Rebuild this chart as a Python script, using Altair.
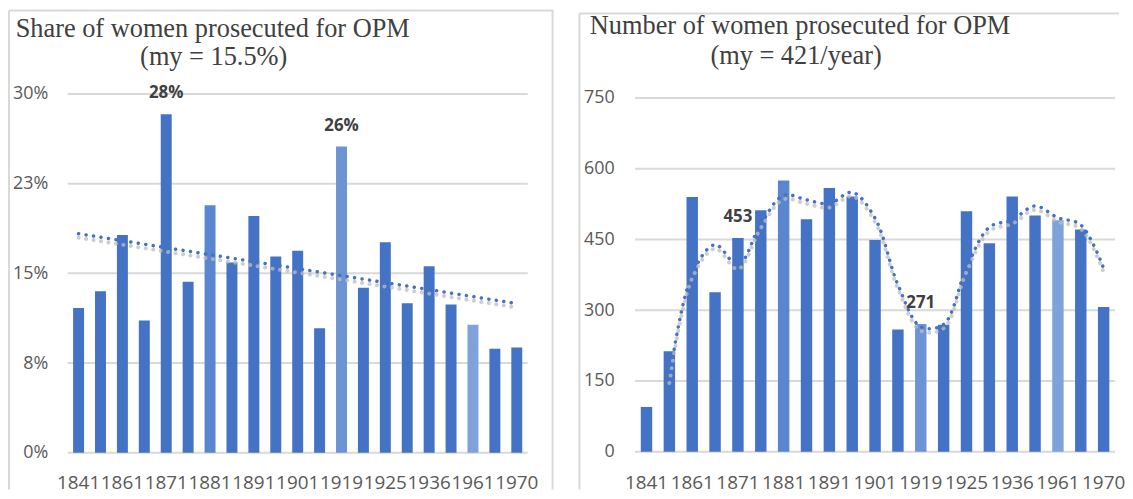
import altair as alt
import pandas as pd

# ---------------- data ----------------
years = ["1841", "1851", "1861", "1866", "1871", "1876", "1881", "1886", "1891", "1896",
         "1901", "1910", "1919", "1920", "1925", "1930", "1936", "1950", "1961", "1965", "1970"]
shown_years = ["1841", "1861", "1871", "1881", "1891", "1901", "1919", "1925", "1936", "1961", "1970"]
share = [0.121, 0.135, 0.182, 0.1105, 0.283, 0.143, 0.207, 0.159, 0.198, 0.164, 0.169,
         0.104, 0.256, 0.138, 0.176, 0.125, 0.156, 0.124, 0.107, 0.087, 0.088]
count = [95, 213, 540, 338, 453, 512, 575, 493, 559, 541, 449,
         259, 271, 269, 510, 442, 541, 501, 491, 471, 307]
share_ticks = [0.0, 0.075, 0.15, 0.225, 0.30]
count_ticks = [0, 150, 300, 450, 600, 750]
labelled_years = ["1871", "1919"]
left_title = ["Share of women prosecuted for OPM", "(my = 15.5%)"]
right_title = ["Number of women prosecuted for OPM", "(my = 421/year)"]

# ---------------- styles ----------------
BASE = "#4472C4"
LIGHTER = {"1881": "#5A86CF", "1919": "#6C94D4", "1961": "#80A2DA"}
GRID = "#D9D9D9"
AXIS_TEXT = "#595959"
DARK_TEXT = "#404040"
LABEL_FONT = "Open Sans"
TITLE_FONT = "Liberation Serif"

df = pd.DataFrame({"year": years, "idx": list(range(len(years))), "share": share, "count": count})
bar_colors = [LIGHTER.get(y, BASE) for y in years]
one = pd.DataFrame({"k": [0]})


def panel(field, ticks, fmt, text_fmt, y_domain, x_range, y_range, W, H, ylab_x,
          title_lines, title_xs, title_ys, title_size, border_top, right_border, trend_kind):
    x_scale = alt.Scale(domain=years, range=x_range, paddingInner=0.5, paddingOuter=0.25)
    y_scale = alt.Scale(domain=y_domain, range=y_range, nice=False, zero=False)
    x_axis = alt.Axis(values=shown_years, title=None, labelAngle=0, domain=False, ticks=False,
                      grid=False, labelPadding=0, offset=467 - H, labelFont=LABEL_FONT,
                      labelFontSize=19, labelColor=AXIS_TEXT, labelOverlap=False,
                      labelBaseline="top")
    y_axis = alt.Axis(values=ticks, format=fmt, title=None, domain=False, ticks=False, grid=False,
                      labelPadding=0, offset=-ylab_x, labelFont=LABEL_FONT, labelFontSize=18,
                      labelColor=AXIS_TEXT)

    def X():
        return alt.X("year:N", sort=years, scale=x_scale, axis=x_axis)

    def Y(f):
        return alt.Y(f, scale=y_scale, axis=y_axis)

    grid_df = pd.DataFrame({"tick": ticks})
    grid = alt.Chart(grid_df).mark_rule(color=GRID, strokeWidth=2).encode(
        y=Y("tick:Q"), x=alt.value(x_range[0]), x2=alt.value(x_range[1]))

    borders = [
        alt.Chart(one).mark_rule(color=GRID, strokeWidth=2).encode(
            x=alt.value(1), x2=alt.value(W), y=alt.value(border_top)),
        alt.Chart(one).mark_rule(color=GRID, strokeWidth=2).encode(
            x=alt.value(1), y=alt.value(border_top), y2=alt.value(H)),
    ]
    if right_border:
        borders.append(alt.Chart(one).mark_rule(color=GRID, strokeWidth=2).encode(
            x=alt.value(W - 1), y=alt.value(border_top), y2=alt.value(H)))

    titles = [
        alt.Chart(one).mark_text(font=TITLE_FONT, fontSize=title_size, color=DARK_TEXT,
                                 align="center", baseline="alphabetic").encode(
            x=alt.value(tx), y=alt.value(ty), text=alt.value(t))
        for t, tx, ty in zip(title_lines, title_xs, title_ys)
    ]

    bars = alt.Chart(df).mark_bar().encode(
        x=X(), y=Y(f"{field}:Q"),
        color=alt.Color("year:N", scale=alt.Scale(domain=years, range=bar_colors), legend=None),
    )

    base = alt.Chart(df)
    if trend_kind == "linear":
        tr = base.transform_calculate(xy=f"datum.idx * datum.{field}").transform_joinaggregate(
            mx="mean(idx)", my=f"mean({field})", mxy="mean(xy)", vx="variancep(idx)"
        ).transform_calculate(
            trend="datum.my + (datum.mxy - datum.mx * datum.my) / datum.vx * (datum.idx - datum.mx)")
        interp = "linear"
    else:
        tr = base.transform_window(
            trend=f"mean({field})", frame=[-1, 0], sort=[alt.SortField("idx")]
        ).transform_filter("datum.idx >= 1")
        interp = "catmull-rom"

    enc = dict(x=X(), y=Y("trend:Q"), order=alt.Order("idx:Q"))
    shadow = tr.mark_line(color="#BDBDBD", strokeWidth=4, strokeDash=[0.1, 7.5], strokeCap="round",
                          yOffset=4, opacity=0.75, interpolate=interp).encode(**enc)
    trend = tr.mark_line(color=BASE, strokeWidth=3.5, strokeDash=[0.1, 7.5], strokeCap="round",
                         interpolate=interp).encode(**enc)

    labels = alt.Chart(df).transform_filter(
        alt.FieldOneOfPredicate(field="year", oneOf=labelled_years)
    ).mark_text(font=LABEL_FONT, fontWeight="bold", fontSize=17, color=DARK_TEXT, dy=-16,
                baseline="alphabetic").encode(
        x=X(), y=Y(f"{field}:Q"), text=alt.Text(f"{field}:Q", format=text_fmt))

    return alt.layer(grid, *borders, *titles, bars, shadow, trend, labels).properties(
        width=W, height=H)


left = panel("share", share_ticks, ".0%", ".0%", [0, 0.3], [60, 523], [446, 85], 549, 483, 40,
             left_title, [206, 207], [28, 56], 26.5, 1, True, "linear")
right = panel("count", count_ticks, "d", "d", [0, 750], [57, 540], [445, 89], 544, 483, 36,
              right_title, [223, 219], [25, 55], 26.5, 4, False, "ma")

chart = alt.hconcat(left, right, spacing=24).configure_view(stroke=None).properties(
    padding=0, background="white")

chart.save("out.html", embed_options={"renderer": "svg", "actions": False})
